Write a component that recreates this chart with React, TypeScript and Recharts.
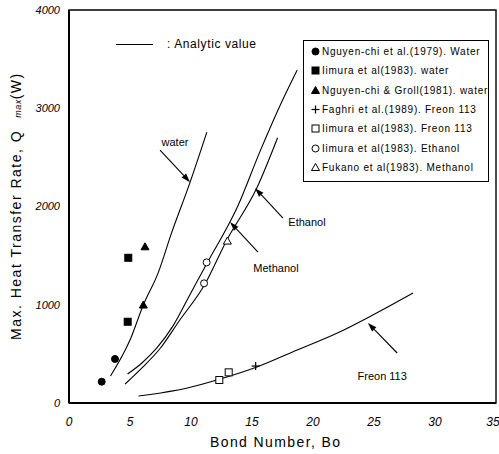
import React from 'react';
import {
  ComposedChart,
  Line,
  Scatter,
  XAxis,
  YAxis,
  ReferenceArea,
  ReferenceLine,
} from 'recharts';

// axis ticks
const xTicks = [0, 5, 10, 15, 20, 25, 30, 35];
const yTicks = [0, 1000, 2000, 3000, 4000];

// analytic curves
const waterCurve = [
  { x: 3.4, y: 275 }, { x: 5.0, y: 641 }, { x: 6.1, y: 1000 }, { x: 7.3, y: 1322 },
  { x: 8.4, y: 1729 }, { x: 9.9, y: 2238 }, { x: 11.3, y: 2757 },
];
const upperCurve = [
  { x: 4.8, y: 295 }, { x: 6.0, y: 410 }, { x: 7.2, y: 560 }, { x: 8.5, y: 780 },
  { x: 9.9, y: 1100 }, { x: 11.3, y: 1420 }, { x: 13.8, y: 1994 }, { x: 15.7, y: 2574 },
  { x: 17.5, y: 3082 }, { x: 18.7, y: 3388 },
];
const lowerCurve = [
  { x: 4.6, y: 193 }, { x: 6.0, y: 360 }, { x: 7.5, y: 560 }, { x: 9.0, y: 830 },
  { x: 11.1, y: 1200 }, { x: 12.9, y: 1650 }, { x: 15.4, y: 2190 }, { x: 17.1, y: 2700 },
];
const freonCurve = [
  { x: 5.7, y: 71 }, { x: 9.7, y: 153 }, { x: 12.4, y: 244 }, { x: 15.4, y: 366 },
  { x: 18.7, y: 539 }, { x: 22.0, y: 712 }, { x: 24.9, y: 895 }, { x: 28.2, y: 1119 },
];

// experimental points
const nguyen1979Water = [{ x: 2.68, y: 217 }, { x: 3.77, y: 448 }];
const iimuraWater = [{ x: 4.86, y: 1478 }, { x: 4.81, y: 827 }];
const nguyenGrollWater = [{ x: 6.23, y: 1590 }, { x: 6.09, y: 997 }];
const faghriFreon = [{ x: 15.3, y: 376 }];
const iimuraFreon = [{ x: 12.32, y: 234 }, { x: 13.09, y: 312 }];
const iimuraEthanol = [{ x: 11.28, y: 1431 }, { x: 11.07, y: 1218 }];
const fukanoMethanol = [{ x: 12.98, y: 1648 }];

const series = [
  { name: 'Nguyen-chi et al.(1979). Water', kind: 'circle', filled: true, data: nguyen1979Water },
  { name: 'Iimura et al(1983). water', kind: 'square', filled: true, data: iimuraWater },
  { name: 'Nguyen-chi & Groll(1981). water', kind: 'triangle', filled: true, data: nguyenGrollWater },
  { name: 'Faghri et al.(1989). Freon 113', kind: 'plus', filled: false, data: faghriFreon },
  { name: 'Iimura et al(1983). Freon 113', kind: 'square', filled: false, data: iimuraFreon },
  { name: 'Iimura et al(1983). Ethanol', kind: 'circle', filled: false, data: iimuraEthanol },
  { name: 'Fukano et al(1983). Methanol', kind: 'triangle', filled: false, data: fukanoMethanol },
];

// annotation arrows: tail -> tip, label offset from tail in px
const arrows = [
  { label: 'water', from: { x: 7.46, y: 2574 }, to: { x: 9.92, y: 2248 }, dx: 15, dy: -4 },
  { label: 'Ethanol', from: { x: 17.54, y: 1882 }, to: { x: 15.25, y: 2187 }, dx: 24, dy: 8 },
  { label: 'Methanol', from: { x: 15.49, y: 1536 }, to: { x: 13.2, y: 1841 }, dx: 18, dy: 20 },
  { label: 'Freon 113', from: { x: 26.9, y: 509 }, to: { x: 24.5, y: 814 }, dx: -15, dy: 27 },
];

const FONT = '"Liberation Sans", Arial, Helvetica, sans-serif';

function Marker({ kind, filled, cx, cy, size = 7 }: any) {
  const fill = filled ? '#000' : '#fff';
  const h = size / 2;
  if (kind === 'circle') {
    return <circle cx={cx} cy={cy} r={h} fill={fill} stroke="#000" strokeWidth={1} />;
  }
  if (kind === 'square') {
    return <rect x={cx - h} y={cy - h} width={size} height={size} fill={fill} stroke="#000" strokeWidth={1} />;
  }
  if (kind === 'triangle') {
    const t = h + 0.5;
    return (
      <polygon
        points={`${cx},${cy - t} ${cx + t},${cy + t * 0.75} ${cx - t},${cy + t * 0.75}`}
        fill={fill}
        stroke="#000"
        strokeWidth={1}
      />
    );
  }
  return (
    <g stroke="#000" strokeWidth={1.2}>
      <line x1={cx - h - 0.5} y1={cy} x2={cx + h + 0.5} y2={cy} />
      <line x1={cx} y1={cy - h - 0.5} x2={cx} y2={cy + h + 0.5} />
    </g>
  );
}

function makeArrowShape(label: string, dx: number, dy: number) {
  return (props: any) => {
    const { x1, y1, x2, y2 } = props;
    const ang = Math.atan2(y2 - y1, x2 - x1);
    const len = 9;
    const w = 3;
    const bx = x2 - len * Math.cos(ang);
    const by = y2 - len * Math.sin(ang);
    const px = -Math.sin(ang) * w;
    const py = Math.cos(ang) * w;
    return (
      <g>
        <line x1={x1} y1={y1} x2={bx} y2={by} stroke="#000" strokeWidth={1.1} />
        <polygon points={`${x2},${y2} ${bx + px},${by + py} ${bx - px},${by - py}`} fill="#000" />
        <text x={x1 + dx} y={y1 + dy} textAnchor="middle" fontSize={11} fontFamily={FONT} fill="#000">
          {label}
        </text>
      </g>
    );
  };
}

export default function App() {
  return (
    <div style={{ position: 'absolute', left: 0, top: 0, width: 499, height: 454, background: '#fff', fontFamily: FONT }}>
      <ComposedChart width={499} height={454} margin={{ top: 10, right: 3, bottom: 21, left: 9 }}>
        <XAxis
          type="number"
          dataKey="x"
          domain={[0, 35]}
          ticks={xTicks}
          allowDataOverflow
          height={30}
          tickSize={0}
          tickMargin={14}
          axisLine={{ stroke: '#000', strokeWidth: 2 }}
          tick={{ fill: '#000', fontSize: 12, fontStyle: 'italic', fontFamily: FONT }}
          label={{
            content: () => (
              <text x={210} y={447} fontSize={14} letterSpacing={1.4} fontFamily={FONT} fill="#000">
                Bond Number, Bo
              </text>
            ),
          }}
        />
        <YAxis
          type="number"
          dataKey="y"
          domain={[0, 4000]}
          ticks={yTicks}
          allowDataOverflow
          width={60}
          tickSize={0}
          tickMargin={9}
          axisLine={{ stroke: '#000', strokeWidth: 2 }}
          tick={{ fill: '#000', fontSize: 11, fontStyle: 'italic', fontFamily: FONT }}
          label={{
            content: () => (
              <text
                transform="rotate(-90)"
                x={-340}
                y={21}
                fontSize={14}
                letterSpacing={1.5}
                fontFamily={FONT}
                fill="#000"
              >
                Max. Heat Transfer Rate, Q
                <tspan dx={12} fontSize={9} letterSpacing={0.5} fontStyle="italic">max</tspan>
                <tspan>(W)</tspan>
              </text>
            ),
          }}
        />
        <ReferenceArea x1={0} x2={35} y1={0} y2={4000} fill="none" stroke="#000" strokeWidth={1.4} />

        {[waterCurve, upperCurve, lowerCurve, freonCurve].map((d, i) => (
          <Line
            key={`curve-${i}`}
            data={d}
            dataKey="y"
            type="monotone"
            stroke="#000"
            strokeWidth={1.1}
            dot={false}
            activeDot={false}
            isAnimationActive={false}
          />
        ))}

        {series.map((s) => (
          <Scatter
            key={s.name}
            name={s.name}
            data={s.data}
            dataKey="y"
            isAnimationActive={false}
            shape={(p: any) => <Marker kind={s.kind} filled={s.filled} cx={p.cx} cy={p.cy} />}
          />
        ))}

        {arrows.map((a) => (
          <ReferenceLine
            key={a.label}
            segment={[a.from, a.to]}
            stroke="#000"
            shape={makeArrowShape(a.label, a.dx, a.dy)}
          />
        ))}
      </ComposedChart>

      {/* analytic value key */}
      <div style={{ position: 'absolute', left: 116, top: 37, display: 'flex', alignItems: 'center' }}>
        <div style={{ width: 37, height: 0, borderTop: '1.2px solid #000' }} />
        <span style={{ marginLeft: 14, fontSize: 12, letterSpacing: 0.6, color: '#000' }}>: Analytic value</span>
      </div>

      {/* experiment legend box */}
      <div
        style={{
          position: 'absolute',
          left: 303,
          top: 40,
          width: 186,
          height: 142,
          border: '1.5px solid #000',
          boxSizing: 'border-box',
          paddingTop: 1,
        }}
      >
        {series.map((s) => (
          <div key={s.name} style={{ display: 'flex', alignItems: 'center', height: 19.3, paddingLeft: 7 }}>
            <svg width={9} height={9} style={{ flexShrink: 0 }}>
              <Marker kind={s.kind} filled={s.filled} cx={4.5} cy={4.5} size={7} />
            </svg>
            <span style={{ marginLeft: 2, fontSize: 10, letterSpacing: 0.75, color: '#000', whiteSpace: 'nowrap' }}>
              {s.name}
            </span>
          </div>
        ))}
      </div>
    </div>
  );
}
